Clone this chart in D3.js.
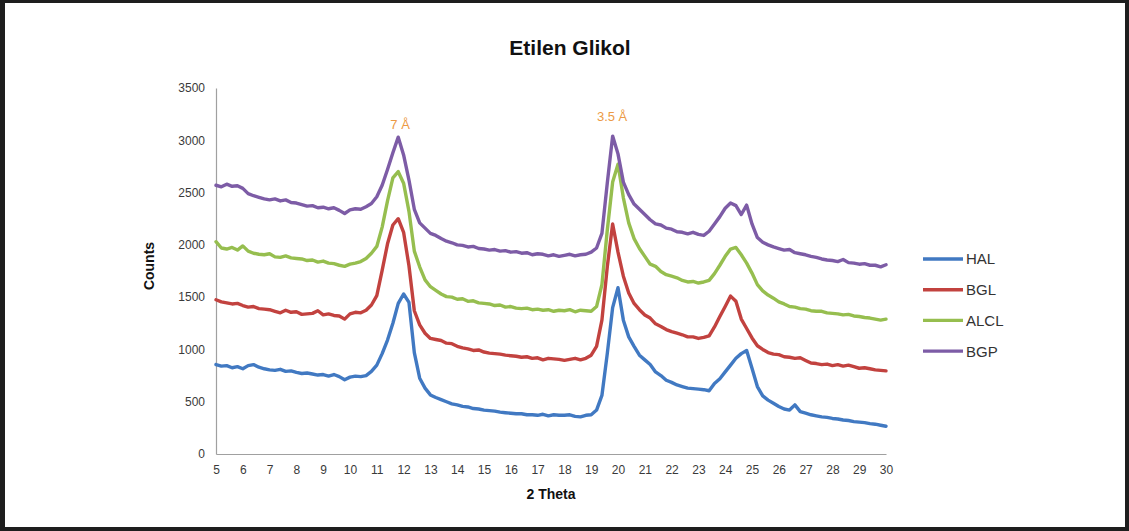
<!DOCTYPE html>
<html>
<head>
<meta charset="utf-8">
<script src="https://cdn.jsdelivr.net/npm/d3@7"></script>
<style>
body { margin: 0; background: #1e1e1e; }
svg { display: block; }
</style>
</head>
<body>
<script>
// 2 theta sampling (deg)
var theta = [5.0, 5.2, 5.4, 5.6, 5.8, 6.0, 6.2, 6.4, 6.6, 6.8,
    7.0, 7.2, 7.4, 7.6, 7.8, 8.0, 8.2, 8.4, 8.6, 8.8,
    9.0, 9.2, 9.4, 9.6, 9.8, 10.0, 10.2, 10.4, 10.6, 10.8,
    11.0, 11.2, 11.4, 11.6, 11.8, 12.0, 12.2, 12.4, 12.6, 12.8,
    13.0, 13.2, 13.4, 13.6, 13.8, 14.0, 14.2, 14.4, 14.6, 14.8,
    15.0, 15.2, 15.4, 15.6, 15.8, 16.0, 16.2, 16.4, 16.6, 16.8,
    17.0, 17.2, 17.4, 17.6, 17.8, 18.0, 18.2, 18.4, 18.6, 18.8,
    19.0, 19.2, 19.4, 19.6, 19.8, 20.0, 20.2, 20.4, 20.6, 20.8,
    21.0, 21.2, 21.4, 21.6, 21.8, 22.0, 22.2, 22.4, 22.6, 22.8,
    23.0, 23.2, 23.4, 23.6, 23.8, 24.0, 24.2, 24.4, 24.6, 24.8,
    25.0, 25.2, 25.4, 25.6, 25.8, 26.0, 26.2, 26.4, 26.6, 26.8,
    27.0, 27.2, 27.4, 27.6, 27.8, 28.0, 28.2, 28.4, 28.6, 28.8,
    29.0, 29.2, 29.4, 29.6, 29.8, 30.0];

var hal = [855, 840, 845, 825, 835, 815, 845, 855, 830, 815,
    805, 800, 810, 790, 795, 780, 770, 775, 765, 755,
    760, 745, 760, 740, 710, 735, 745, 740, 750, 790,
    850, 960, 1090, 1250, 1440, 1530, 1450, 970, 725, 630,
    565, 540, 520, 500, 480, 470, 455, 450, 435, 430,
    420, 415, 410, 400, 395, 390, 385, 385, 375, 375,
    370, 380, 365, 375, 370, 370, 375, 360, 355, 370,
    375, 420, 560, 960, 1400, 1590, 1280, 1120, 1030, 945,
    900, 855, 785, 750, 705, 685, 660, 645, 630, 625,
    620, 615, 605, 675, 720, 785, 850, 915, 960, 990,
    820, 645, 555, 515, 485, 455, 430, 420, 470, 405,
    390, 375, 365, 355, 350, 340, 335, 325, 320, 310,
    305, 300, 290, 285, 275, 265];

var bgl = [1475, 1455, 1445, 1435, 1440, 1420, 1405, 1410, 1390, 1385,
    1380, 1365, 1350, 1375, 1355, 1360, 1335, 1340, 1345, 1370,
    1330, 1340, 1325, 1320, 1290, 1340, 1355, 1350, 1375, 1425,
    1515, 1755, 2010, 2190, 2250, 2120, 1800, 1370, 1235, 1155,
    1105, 1095, 1085, 1060, 1055, 1030, 1015, 1005, 990, 995,
    975, 965, 960, 955, 945, 940, 935, 925, 930, 915,
    920, 900, 915, 910, 905, 895, 905, 915, 900, 915,
    945, 1030, 1280, 1790, 2200, 1930, 1700, 1540, 1440, 1380,
    1330, 1300, 1245, 1220, 1190, 1170, 1155, 1140, 1120, 1120,
    1105, 1115, 1130, 1215, 1315, 1410, 1510, 1460, 1290, 1200,
    1110, 1035, 1000, 970, 955, 950, 930, 925, 915, 920,
    895, 870, 865, 855, 860, 845, 855, 840, 850, 835,
    820, 825, 815, 805, 800, 795];

var alcl = [2030, 1970, 1960, 1975, 1950, 1990, 1940, 1920, 1910, 1905,
    1915, 1885, 1880, 1895, 1875, 1870, 1865, 1850, 1855, 1835,
    1845, 1825, 1820, 1805, 1795, 1815, 1825, 1840, 1870, 1920,
    1985, 2170, 2420, 2640, 2700, 2590, 2320, 1940, 1790, 1665,
    1600, 1565, 1530, 1505, 1500, 1480, 1485, 1460, 1465, 1445,
    1440, 1435, 1420, 1425, 1405, 1410, 1395, 1390, 1395, 1380,
    1385, 1375, 1380, 1365, 1375, 1370, 1380, 1360, 1375, 1370,
    1365, 1410, 1620, 2140, 2600, 2770, 2450, 2210, 2060, 1965,
    1890, 1815, 1795, 1745, 1715, 1700, 1685, 1660, 1645, 1650,
    1635, 1645, 1660, 1725, 1805, 1890, 1960, 1975, 1905, 1825,
    1730, 1620, 1560, 1520, 1490, 1455, 1435, 1410, 1405, 1390,
    1385, 1370, 1365, 1365, 1350, 1345, 1340, 1330, 1335, 1320,
    1315, 1305, 1300, 1290, 1280, 1290];

var bgp = [2570, 2555, 2580, 2560, 2565, 2540, 2490, 2470, 2455, 2440,
    2430, 2440, 2420, 2430, 2405, 2400, 2385, 2370, 2375, 2355,
    2360, 2345, 2355, 2330, 2300, 2335, 2345, 2340, 2365, 2395,
    2460, 2570, 2720, 2880, 3030, 2860, 2620, 2340, 2210, 2160,
    2110, 2090, 2060, 2035, 2020, 2000, 1995, 1980, 1985, 1965,
    1960, 1950, 1955, 1940, 1945, 1930, 1935, 1920, 1925, 1905,
    1915, 1910, 1895, 1905, 1890, 1900, 1910, 1895, 1905, 1910,
    1930, 1970, 2110, 2590, 3040, 2870, 2600, 2480, 2390, 2340,
    2290, 2240, 2200, 2190, 2160, 2150, 2125, 2120, 2105, 2120,
    2100, 2090, 2130, 2200, 2270, 2350, 2400, 2375, 2290, 2380,
    2200, 2070, 2025, 2000, 1980, 1965, 1950, 1955, 1925, 1915,
    1905, 1890, 1880, 1865, 1855, 1850, 1840, 1860, 1830, 1825,
    1815, 1820, 1805, 1805, 1790, 1810];

var seriesNames = ["HAL", "BGL", "ALCL", "BGP"];
var seriesValues = [hal, bgl, alcl, bgp];
var color = ["#4179c2", "#c2423f", "#96be4f", "#7d5ca6"];

var yTicks = [0, 500, 1000, 1500, 2000, 2500, 3000, 3500];
var xTicks = [5, 6, 7, 8, 9, 10, 11, 12, 13, 14, 15, 16, 17, 18, 19, 20, 21, 22, 23, 24, 25, 26, 27, 28, 29, 30];

// peak labels: [label, theta, counts]
var peakLabels = [["7 Å", 11.87, 3110], ["3.5 Å", 19.78, 3185]];

var W = 1129, H = 531;
var font = "Arial, 'Liberation Sans', sans-serif";

var svg = d3.select("body")
    .append("svg")
    .attr("width", W)
    .attr("height", H);

// dark frame + white page
svg.append("rect")
    .attr("width", W)
    .attr("height", H)
    .attr("fill", "#1e1e1e");
svg.append("rect")
    .attr("x", 5)
    .attr("y", 3)
    .attr("width", 1120)
    .attr("height", 524)
    .attr("fill", "#ffffff");

var x = d3.scaleLinear()
    .domain([5, 30])
    .range([216, 886]);

var y = d3.scaleLinear()
    .domain([0, 3500])
    .range([454, 88]);

// axes
var xAxis = svg.append("g")
    .attr("transform", "translate(0,454)")
    .call(d3.axisBottom(x).tickValues(xTicks).tickSize(0).tickPadding(11).tickFormat(d3.format("d")));

var yAxis = svg.append("g")
    .attr("transform", "translate(216,0)")
    .call(d3.axisLeft(y).tickValues(yTicks).tickSize(0).tickPadding(11).tickFormat(d3.format("d")));

[xAxis, yAxis].forEach(function (g) {
    g.select(".domain").attr("stroke", "#a0a0a0").attr("stroke-width", 1.2);
    g.selectAll("text")
        .style("font-family", font)
        .style("font-size", "12px")
        .attr("fill", "#3a3a3a");
});

// series
var line = d3.line()
    .x(function (d, i) { return x(theta[i]); })
    .y(function (d) { return y(d); });

svg.append("g")
    .selectAll("path")
    .data(seriesValues)
    .join("path")
    .attr("d", line)
    .attr("fill", "none")
    .attr("stroke", function (d, i) { return color[i]; })
    .attr("stroke-width", 3.4)
    .attr("stroke-linejoin", "round")
    .attr("stroke-linecap", "round");

// peak annotations
svg.selectAll(".peak")
    .data(peakLabels)
    .join("text")
    .attr("class", "peak")
    .attr("x", function (d) { return x(d[1]); })
    .attr("y", function (d) { return y(d[2]); })
    .attr("text-anchor", "middle")
    .style("font-family", font)
    .style("font-size", "13px")
    .attr("fill", "#ec9a45")
    .text(function (d) { return d[0]; });

// title
svg.append("text")
    .attr("x", 570)
    .attr("y", 55)
    .attr("text-anchor", "middle")
    .style("font-family", font)
    .style("font-size", "21px")
    .style("font-weight", "bold")
    .attr("fill", "#111")
    .text("Etilen Glikol");

// axis titles
svg.append("text")
    .attr("x", 551)
    .attr("y", 499)
    .attr("text-anchor", "middle")
    .style("font-family", font)
    .style("font-size", "14px")
    .style("font-weight", "bold")
    .attr("fill", "#111")
    .text("2 Theta");

svg.append("text")
    .attr("transform", "translate(154,266) rotate(-90)")
    .attr("text-anchor", "middle")
    .style("font-family", font)
    .style("font-size", "14px")
    .style("font-weight", "bold")
    .attr("fill", "#111")
    .text("Counts");

// legend
var legend = svg.append("g")
    .selectAll("g")
    .data(seriesNames)
    .join("g")
    .attr("transform", function (d, i) { return "translate(923," + (259 + i * 30.7) + ")"; });

legend.append("line")
    .attr("x1", 0)
    .attr("x2", 40)
    .attr("stroke", function (d, i) { return color[i]; })
    .attr("stroke-width", 3.4);

legend.append("text")
    .attr("x", 43)
    .attr("dy", "0.36em")
    .style("font-family", font)
    .style("font-size", "15px")
    .attr("fill", "#333")
    .text(function (d) { return d; });
</script>
</body>
</html>
